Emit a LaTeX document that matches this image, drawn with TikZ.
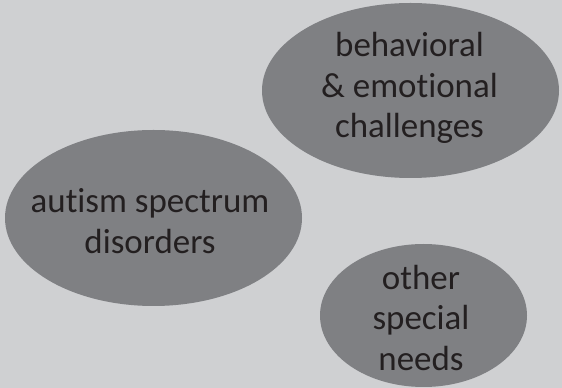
\documentclass[tikz,border=0pt]{standalone}
\usepackage{fontspec}
\setmainfont[Ligatures={NoCommon,NoRare,NoContextual}]{Carlito}
\usetikzlibrary{shapes.geometric}
\definecolor{bgc}{HTML}{CFD0D2}
\definecolor{blobc}{HTML}{7F8083}
\definecolor{inkc}{HTML}{231F20}
\tikzset{
  blob/.style={ellipse, fill=blobc, draw=none, inner sep=0pt},
  lbl/.style={text=inkc, align=center, inner sep=0pt, anchor=center,
    font={\fontsize{26.2}{30.5}\selectfont}}
}
\begin{document}
\begin{tikzpicture}[x=0.75pt,y=-0.75pt]
\useasboundingbox (0,0) rectangle (562,388);
\fill[bgc] (0,0) rectangle (562,388);
\node[blob, minimum width=297*0.75pt, minimum height=176*0.75pt] (asd) at (153.5,218) {};
\node[blob, minimum width=297*0.75pt, minimum height=175*0.75pt] (bec) at (410.5,90.5) {};
\node[blob, minimum width=207*0.75pt, minimum height=143*0.75pt] (osn) at (423.5,315.5) {};
\node[lbl] (asdt) at (150,221) {autism spectrum\\disorders};
\node[lbl] (bect) at (409.5,88) {behavioral\\\&~emotional\\challenges};
\node[lbl] (osnt) at (421,318) {other\\special\\needs};
\end{tikzpicture}
\end{document}
